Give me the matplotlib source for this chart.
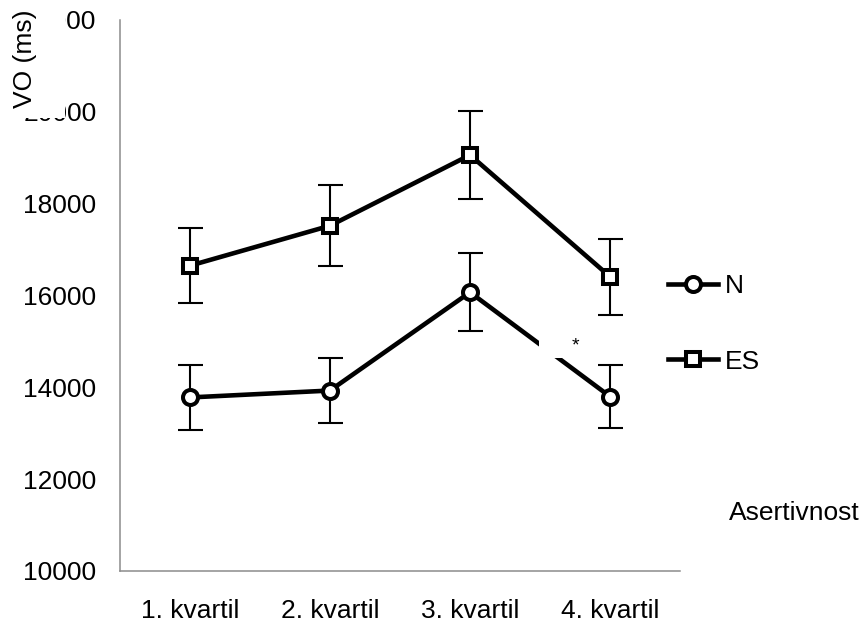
import matplotlib.pyplot as plt
from matplotlib.patches import Rectangle

plt.rcParams['font.family'] = ['Liberation Sans', 'DejaVu Sans']

# data
categories = ['1. kvartil', '2. kvartil', '3. kvartil', '4. kvartil']
n_mean = [13780, 13930, 16070, 13800]
n_err = [700, 715, 850, 690]
es_mean = [16650, 17520, 19060, 16410]
es_err = [820, 880, 950, 830]
y_ticks = [10000, 12000, 14000, 16000, 18000, 20000, 22000]

x = list(range(1, len(categories) + 1))
fs = 19

fig = plt.figure(figsize=(8.65, 6.25), dpi=100)
ax = fig.add_axes([120 / 865, 1 - 571 / 625, 560 / 865, 551 / 625])

ax.errorbar(x, n_mean, yerr=n_err, fmt='none', ecolor='black', elinewidth=1.5,
            capsize=9, capthick=1.5, zorder=2)
ax.errorbar(x, es_mean, yerr=es_err, fmt='none', ecolor='black', elinewidth=1.5,
            capsize=9, capthick=1.5, zorder=2)
ax.plot(x, n_mean, color='black', lw=3.3, marker='o', ms=10.8, mfc='white',
        mec='black', mew=2.9, label='N', zorder=3)
ax.plot(x, es_mean, color='black', lw=3.3, marker='s', ms=9.4, mfc='white',
        mec='black', mew=2.9, label='ES', zorder=3)

# white box with the asterisk, hiding part of the N line
ax.add_patch(Rectangle((3.49, 14630), 0.4, 620, facecolor='white',
                       edgecolor='none', zorder=4))
ax.text(3.75, 14900, '*', fontsize=14, ha='center', va='center', zorder=5)

ax.set_xlim(0.5, 4.5)
ax.set_ylim(10000, 22000)
ax.set_xticks(x)
ax.set_xticklabels(categories)
ax.set_yticks(y_ticks)
ax.tick_params(length=0, labelsize=fs)
ax.tick_params(axis='y', pad=17)
ax.tick_params(axis='x', pad=20)
for s in ['top', 'right']:
    ax.spines[s].set_visible(False)
for s in ['left', 'bottom']:
    ax.spines[s].set_color('#8c8c8c')
    ax.spines[s].set_linewidth(1.1)

ax.legend(loc='center left', bbox_to_anchor=(668 / 865, 1 - 324 / 625),
          bbox_transform=fig.transFigure, frameon=False, fontsize=fs,
          handlelength=1.9, handletextpad=0.25, labelspacing=1.95,
          borderpad=0, borderaxespad=0)

# white patch over the top tick labels, then the axis title
fig.patches.append(Rectangle((0, 1 - 118 / 625), 65 / 865, 118 / 625,
                             transform=fig.transFigure, facecolor='white',
                             edgecolor='none', zorder=5))
fig.text(25 / 865, 1 - 59 / 625, 'VO (ms)', rotation=90, fontsize=fs,
         ha='center', va='center', zorder=6)
fig.text(729 / 865, 1 - 513 / 625, 'Asertivnost', fontsize=fs,
         ha='left', va='center')

fig.savefig('out.png', dpi=100)
